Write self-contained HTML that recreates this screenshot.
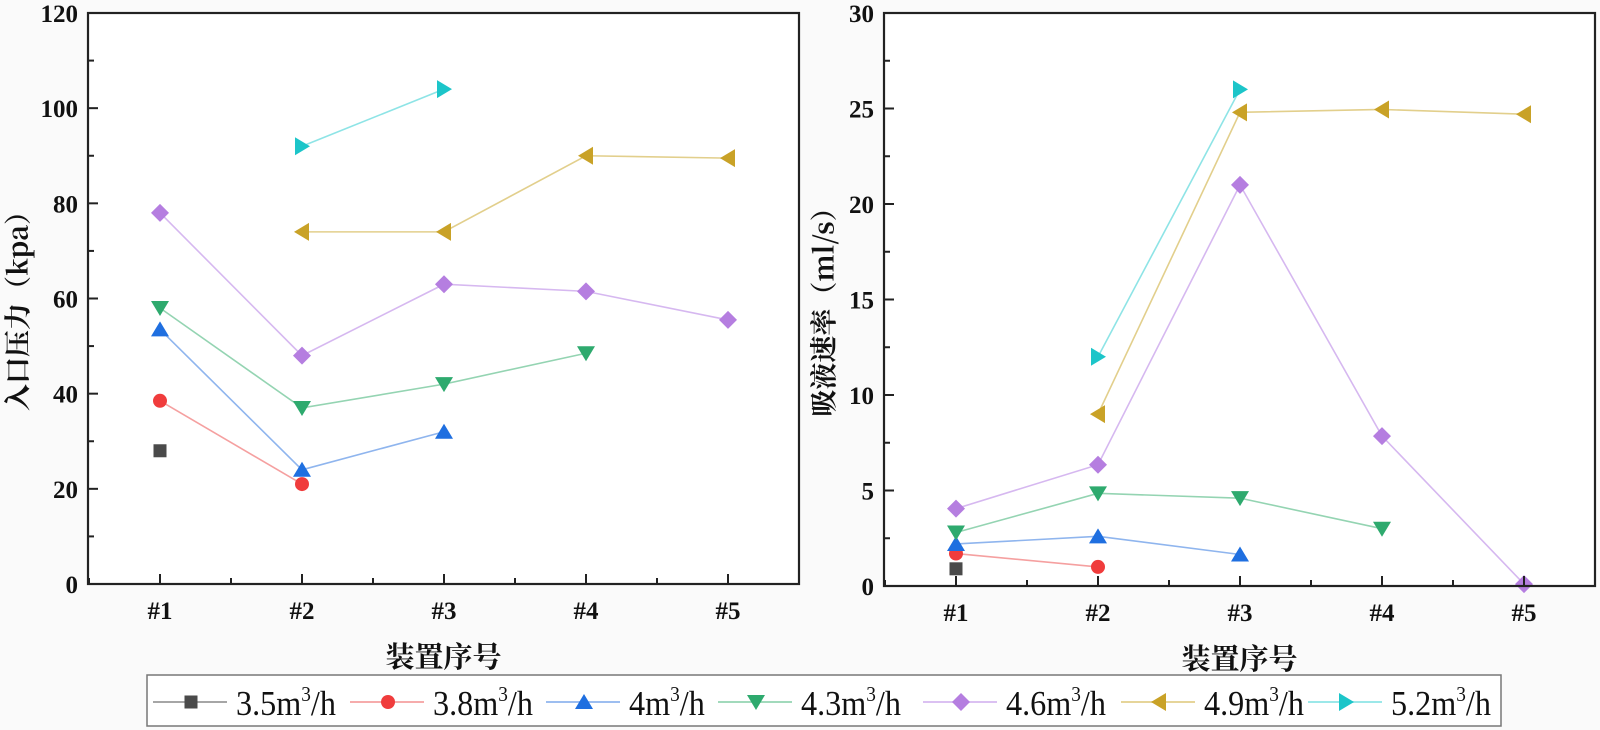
<!DOCTYPE html>
<html><head><meta charset="utf-8"><style>
body{margin:0;background:#fafafa;}
svg{display:block;font-family:"Liberation Serif","Noto Serif CJK SC",serif;}
</style></head><body>
<svg id="c" width="1600" height="730" viewBox="0 0 1600 730" xmlns="http://www.w3.org/2000/svg"></svg>
<script>
const categories = ["#1","#2","#3","#4","#5"];
const seriesNames = ["3.5","3.8","4","4.3","4.6","4.9","5.2"];
const leftTicks = [0,20,40,60,80,100,120];
const rightTicks = [0,5,10,15,20,25,30];
// inlet pressure (kpa), null = missing
const p35 = [28,null,null,null,null];
const p38 = [38.5,21,null,null,null];
const p40 = [53.5,24,32,null,null];
const p43 = [58,37,42,48.5,null];
const p46 = [78,48,63,61.5,55.5];
const p49 = [null,74,74,90,89.5];
const p52 = [null,92,104,null,null];
// suction rate (ml/s)
const r35 = [0.9,null,null,null,null];
const r38 = [1.7,1.0,null,null,null];
const r40 = [2.2,2.6,1.65,null,null];
const r43 = [2.8,4.85,4.6,3.0,null];
const r46 = [4.05,6.35,21,7.85,0.1];
const r49 = [null,9.0,24.8,24.95,24.7];
const r52 = [null,12.0,26,null,null];

const leftData=[p35,p38,p40,p43,p46,p49,p52];
const rightData=[r35,r38,r40,r43,r46,r49,r52];
const colors=["#4a4a4a","#f03c3c","#1f6fe0","#2eaa6e","#b57ee0","#c9a227","#1cc5c9"];
const lineColors=["#9a9a9a","#f5a0a0","#8fb5ee","#94d4b2","#d6b8f0","#e2cf8c","#8ee4e6"];
const shapes=["square","circle","up","down","diamond","left","right"];
const svg=document.getElementById('c');
const NS="http://www.w3.org/2000/svg";
function mk(t,a,parent){const e=document.createElementNS(NS,t);for(const k in a)e.setAttribute(k,a[k]);(parent||svg).appendChild(e);return e;}
function marker(shape,cx,cy,col,g){
  const s=8;let e;
  if(shape==="square")e=mk('rect',{x:cx-6.5,y:cy-6.5,width:13,height:13,fill:col},g);
  else if(shape==="circle")e=mk('circle',{cx:cx,cy:cy,r:7,fill:col},g);
  else{let pts;
    if(shape==="up")pts=[[cx,cy-s],[cx+s+1,cy+s-1],[cx-s-1,cy+s-1]];
    if(shape==="down")pts=[[cx,cy+s],[cx+s+1,cy-s+1],[cx-s-1,cy-s+1]];
    if(shape==="left")pts=[[cx-s,cy],[cx+s-1,cy-s-1],[cx+s-1,cy+s+1]];
    if(shape==="right")pts=[[cx+s,cy],[cx-s+1,cy-s-1],[cx-s+1,cy+s+1]];
    if(shape==="diamond")pts=[[cx,cy-s-1],[cx+s+1,cy],[cx,cy+s+1],[cx-s-1,cy]];
    e=mk('polygon',{points:pts.map(p=>p.join(',')).join(' '),fill:col},g);}
  return e;
}
mk('rect',{x:88,y:13,width:711,height:571,fill:'#fff'});
mk('rect',{x:884,y:13,width:711,height:573,fill:'#fff'});
function panel(x0,x1,y0,y1,ticks,data,ylabel,name,titleX){
  const g=mk('g',{});
  
  
  const vmax=ticks[ticks.length-1];
  const xs=i=>x0+72+i*142;
  const ys=v=>y1-(v/vmax)*(y1-y0);
  data.forEach((arr,si)=>{
    const sg=mk('g',{},g);
    
    
    let pts=[];
    arr.forEach((v,i)=>{if(v!==null)pts.push([xs(i),ys(v)]);});
    if(pts.length>1)mk('polyline',{points:pts.map(p=>p.join(',')).join(' '),fill:'none',stroke:lineColors[si],'stroke-width':1.6},sg);
    pts.forEach(p=>{const m=marker(shapes[si],p[0],p[1],colors[si],sg);
      
      });
  });
  const fr=mk('rect',{x:x0,y:y0,width:x1-x0,height:y1-y0,fill:'none',stroke:'#222','stroke-width':2.2},g);
  
  
  ticks.forEach((t,i)=>{
    const y=ys(t);
    mk('line',{x1:x0,x2:x0+10,y1:y,y2:y,stroke:'#222','stroke-width':2},g);
    if(i<ticks.length-1){const ym=ys(t+(ticks[1]-ticks[0])/2);mk('line',{x1:x0,x2:x0+6,y1:ym,y2:ym,stroke:'#222','stroke-width':2},g);}
    const tx=mk('text',{x:x0-10,y:y+9,'text-anchor':'end','font-size':25,'font-weight':'bold',fill:'#111'},g);
    tx.textContent=t;
    
    
  });
  categories.forEach((c,i)=>{
    const x=xs(i);
    mk('line',{x1:x,x2:x,y1:y1,y2:y1-10,stroke:'#222','stroke-width':2},g);
    mk('line',{x1:x+71,x2:x+71,y1:y1,y2:y1-6,stroke:'#222','stroke-width':2},g);
    if(i===0)mk('line',{x1:x-71,x2:x-71,y1:y1,y2:y1-6,stroke:'#222','stroke-width':2},g);
    const tx=mk('text',{x:x,y:y1+35,'text-anchor':'middle','font-size':25,'font-weight':'bold',fill:'#111'},g);
    tx.textContent=c;
    
    
  });
  const xt=mk('text',{x:(x0+x1)/2,y:y1+83,'text-anchor':'middle','font-size':29,'font-weight':'bold',fill:'#111','font-family':'"Noto Serif CJK SC",serif'},g);
  xt.textContent='装置序号';
  
  
  const cy=(y0+y1)/2+6;
  const yt=mk('text',{x:titleX,y:cy,'text-anchor':'middle','dominant-baseline':'central','font-size':27,'font-weight':'bold',fill:'#111',transform:`rotate(-90 ${titleX} ${cy})`,'font-family':'"Noto Serif CJK SC",serif'},g);
  yt.textContent=ylabel;
  
  
}
panel(88,799,13,584,leftTicks,leftData,'入口压力（kpa）','inlet-pressure-chart',16);
panel(884,1595,13,586,rightTicks,rightData,'吸液速率（ml/s）','suction-rate-chart',822);
const lg=mk('g',{});


mk('rect',{x:147,y:675,width:1354,height:51,fill:'#fff',stroke:'#777','stroke-width':1.5},lg);
const lineStart=[153,350,546,718,923,1121,1308];
seriesNames.forEach((n,i)=>{
  const eg=mk('g',{},lg);
  
  
  const ls=lineStart[i];
  mk('line',{x1:ls,x2:ls+74,y1:702,y2:702,stroke:lineColors[i],'stroke-width':1.8},eg);
  marker(shapes[i],ls+38,702,colors[i],eg);
  const tx=ls+83;
  const t=mk('text',{x:0,y:0,'font-size':35,fill:'#111',transform:`translate(${tx},715) scale(0.92,1)`},eg);
  t.innerHTML=n+'m<tspan dy="-14" font-size="21">3</tspan><tspan dy="14">/h</tspan>';
});
</script>
</body></html>
